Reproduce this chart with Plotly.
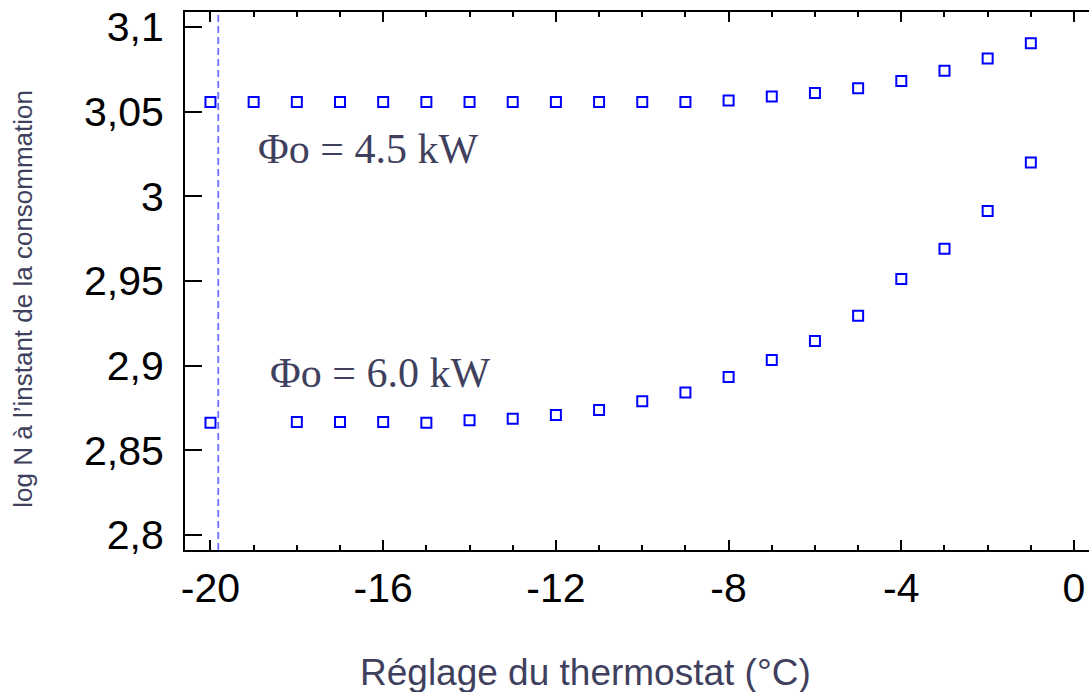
import plotly.graph_objects as go

# ---- data ----
temps_45 = [-20, -19, -18, -17, -16, -15, -14, -13, -12, -11, -10, -9, -8, -7, -6, -5, -4, -3, -2, -1]
logn_45 = [3.0557, 3.0557, 3.0557, 3.0557, 3.0557, 3.0557, 3.0557, 3.0557, 3.0557, 3.0557,
           3.0557, 3.0557, 3.0566, 3.0590, 3.0610, 3.0639, 3.0681, 3.0742, 3.0814, 3.0905]

temps_60 = [-20, -18, -17, -16, -15, -14, -13, -12, -11, -10, -9, -8, -7, -6, -5, -4, -3, -2, -1]
logn_60 = [2.8663, 2.8667, 2.8667, 2.8667, 2.8663, 2.8677, 2.8687, 2.8709, 2.8738, 2.8789,
           2.8842, 2.8933, 2.9034, 2.9146, 2.9294, 2.9512, 2.9690, 2.9914, 3.0200]

ref_line_x = -19.82

y_tickvals = [2.8, 2.85, 2.9, 2.95, 3.0, 3.05, 3.1]
y_ticktext = ["2,8", "2,85", "2,9", "2,95", "3", "3,05", "3,1"]
x_tickvals = [-20, -16, -12, -8, -4, 0]
x_ticktext = ["-20", "-16", "-12", "-8", "-4", "0"]

label_45 = "Φo = 4.5 kW"
label_60 = "Φo = 6.0 kW"
x_title = "Réglage du thermostat (°C)"
y_title = "log N à l’instant de la consommation"

x_range = [-20.59, 0.347]
y_range = [2.7911, 3.1089]

title_color = "#3f3f5e"
marker_style = dict(symbol="square-open", size=10, color="#0000ff", line=dict(width=2, color="#0000ff"))

fig = go.Figure()
fig.add_trace(go.Scatter(x=temps_45, y=logn_45, mode="markers", marker=marker_style,
                         showlegend=False, cliponaxis=False))
fig.add_trace(go.Scatter(x=temps_60, y=logn_60, mode="markers", marker=marker_style,
                         showlegend=False, cliponaxis=False))

fig.add_shape(type="line", xref="x", yref="paper", x0=ref_line_x, x1=ref_line_x, y0=0, y1=1,
              line=dict(color="#7070ff", width=1.8, dash="7px,4px"), layer="below")

fig.add_annotation(x=-16.35, y=3.028, xref="x", yref="y", text=label_45, showarrow=False,
                   font=dict(family="Liberation Serif, Times New Roman, serif", size=42, color=title_color),
                   xanchor="center", yanchor="middle")
fig.add_annotation(x=-16.07, y=2.8955, xref="x", yref="y", text=label_60, showarrow=False,
                   font=dict(family="Liberation Serif, Times New Roman, serif", size=42, color=title_color),
                   xanchor="center", yanchor="middle")

fig.add_annotation(x=0.443, y=-0.2268, xref="paper", yref="paper", text=x_title, showarrow=False,
                   font=dict(family="Liberation Sans, Arial, sans-serif", size=37, color=title_color),
                   xanchor="center", yanchor="middle")
fig.add_annotation(x=-0.179, y=0.4675, xref="paper", yref="paper", text=y_title, showarrow=False,
                   textangle=-90,
                   font=dict(family="Liberation Sans, Arial, sans-serif", size=26, color=title_color),
                   xanchor="center", yanchor="middle")

fig.update_layout(
    width=1089, height=692,
    margin=dict(l=185, r=0, t=12, b=142),
    paper_bgcolor="white", plot_bgcolor="white",
    font=dict(family="Liberation Sans, Arial, sans-serif", color="black"),
    xaxis=dict(
        range=x_range, tickvals=x_tickvals, ticktext=x_ticktext,
        showgrid=False, zeroline=False,
        showline=True, linecolor="black", linewidth=2, mirror="ticks",
        ticks="inside", ticklen=10, tickwidth=2, tickcolor="black",
        minor=dict(dtick=1, tick0=0, ticks="inside", ticklen=5, tickwidth=1.5, tickcolor="black", showgrid=False),
        tickfont=dict(size=41, color="black"), ticklabelstandoff=1,
    ),
    yaxis=dict(
        range=y_range, tickvals=y_tickvals, ticktext=y_ticktext,
        showgrid=False, zeroline=False,
        showline=True, linecolor="black", linewidth=2, mirror=False,
        ticks="inside", ticklen=17, tickwidth=2, tickcolor="black",
        tickfont=dict(size=41, color="black"), ticklabelstandoff=11,
    ),
    yaxis2=dict(
        range=y_range, tickvals=y_tickvals, overlaying="y", side="right",
        showticklabels=False, showgrid=False, zeroline=False, showline=False,
        ticks="inside", ticklen=6, tickwidth=2, tickcolor="black",
    ),
)

fig.write_html("out.html")
